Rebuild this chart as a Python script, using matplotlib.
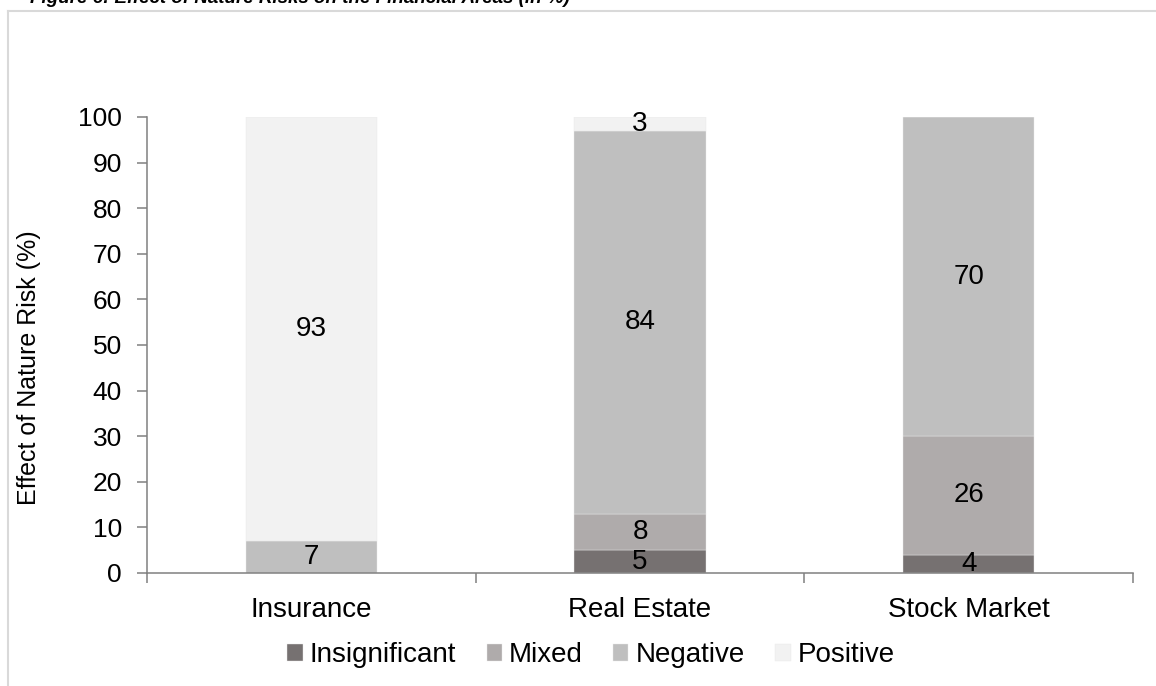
import numpy as np
import matplotlib.pyplot as plt
from matplotlib.lines import Line2D

plt.rcParams['font.family'] = ['Liberation Sans', 'DejaVu Sans']

areas = ['Insurance', 'Real Estate', 'Stock Market']
effects = ['Insignificant', 'Mixed', 'Negative', 'Positive']
insignificant = [0, 5, 4]
mixed = [0, 8, 26]
negative = [7, 84, 70]
positive = [93, 3, 0]
colors = ['#767171', '#AFABAB', '#BFBFBF', '#F2F2F2']

W, H = 1156, 686
fig = plt.figure(figsize=(W / 100, H / 100), dpi=100)
ax = fig.add_axes([147 / W, 1 - 573 / H, (1133 - 147) / W, (573 - 117) / H])

x = np.arange(len(areas))
bottom = np.zeros(len(areas))
for name, vals, c in zip(effects, [insignificant, mixed, negative, positive], colors):
    vals = np.array(vals, dtype=float)
    ax.bar(x, vals, width=0.4, bottom=bottom, color=c, label=name,
           edgecolor='#E8E8E8', linewidth=0.3)
    for xi, b, v in zip(x, bottom, vals):
        if v > 0:
            ax.text(xi, b + v / 2, f'{v:.0f}', ha='center', va='center',
                    fontsize=20, color='black')
    bottom += vals

ax.set_xlim(-0.5, 2.5)
ax.set_ylim(0, 100)
ax.set_yticks(np.arange(0, 101, 10))
ax.set_xticks(x)
ax.set_xticklabels(areas, fontsize=20)
ax.set_xticks([-0.5, 0.5, 1.5, 2.5], minor=True)
ax.tick_params(axis='x', which='major', length=0, pad=17)
ax.tick_params(axis='x', which='minor', length=7, width=1.1, color='#808080')
ax.tick_params(axis='y', length=7, width=1.1, color='#808080', labelsize=19, pad=11)

for s in ['top', 'right']:
    ax.spines[s].set_visible(False)
for s in ['left', 'bottom']:
    ax.spines[s].set_color('#808080')
    ax.spines[s].set_linewidth(1.1)

ax.set_ylabel('Effect of Nature Risk (%)', fontsize=18)
ax.yaxis.set_label_coords(-0.108, 0.45)

fig.legend(loc='center', bbox_to_anchor=(591 / W, 1 - 655 / H), ncol=4,
           frameon=False, fontsize=20, handlelength=0.55, handleheight=0.55,
           handletextpad=0.25, columnspacing=1.1, borderpad=0)

# outer frame and title
fig.add_artist(Line2D([8 / W, 8 / W], [0, 1 - 11 / H], color='#D9D9D9', lw=1.5,
                      transform=fig.transFigure))
fig.add_artist(Line2D([8 / W, 1155 / W], [1 - 11 / H, 1 - 11 / H], color='#D9D9D9',
                      lw=1.5, transform=fig.transFigure))
fig.text(30 / W, 1 - 3 / H,
         'Figure 6: Effect of Nature Risks on the Financial Areas (in %)',
         fontsize=13.5, fontweight='bold', fontstyle='italic', va='baseline')

fig.savefig('out.png', dpi=100)
